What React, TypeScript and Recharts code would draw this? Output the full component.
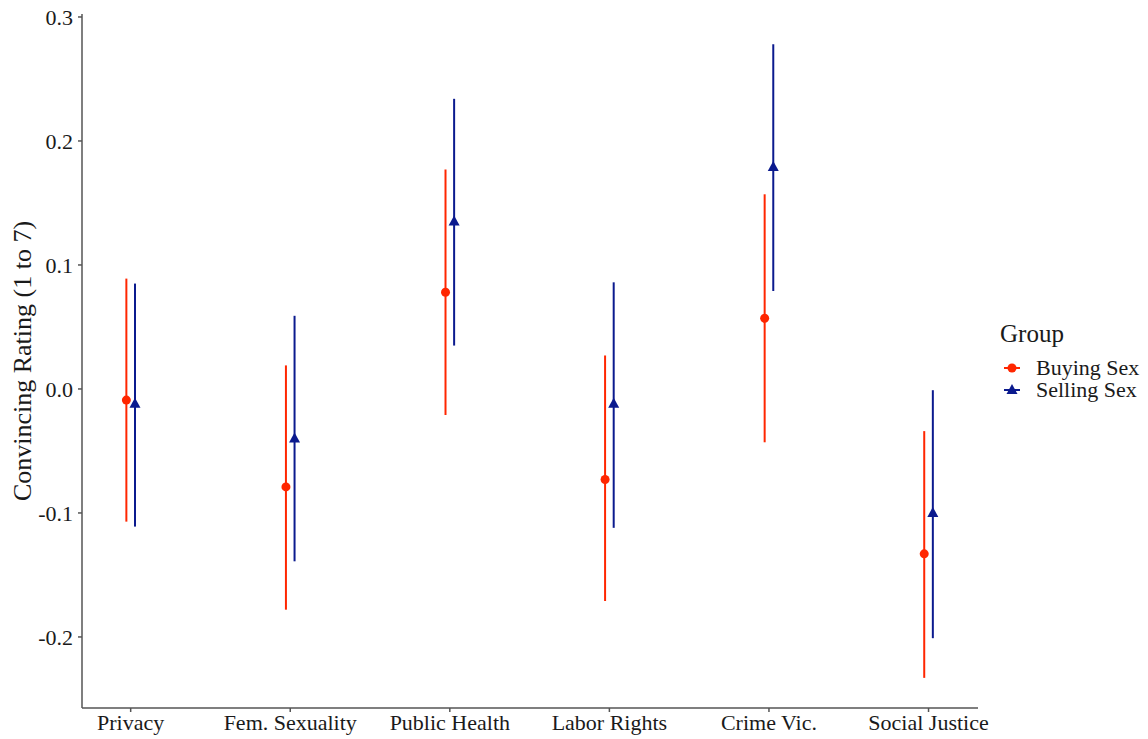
import {
  ScatterChart,
  Scatter,
  XAxis,
  YAxis,
  ErrorBar,
  Label,
} from "recharts";

const categories = [
  "Privacy",
  "Fem. Sexuality",
  "Public Health",
  "Labor Rights",
  "Crime Vic.",
  "Social Justice",
];

// Buying Sex: estimate + 95% CI
const buyingEst = [-0.009, -0.079, 0.078, -0.073, 0.057, -0.133];
const buyingLow = [-0.107, -0.178, -0.021, -0.171, -0.043, -0.233];
const buyingHigh = [0.089, 0.019, 0.177, 0.027, 0.157, -0.034];

// Selling Sex: estimate + 95% CI
const sellingEst = [-0.012, -0.040, 0.135, -0.012, 0.179, -0.100];
const sellingLow = [-0.111, -0.139, 0.035, -0.112, 0.079, -0.201];
const sellingHigh = [0.085, 0.059, 0.234, 0.086, 0.278, -0.001];

const yTicks = [-0.2, -0.1, 0.0, 0.1, 0.2, 0.3];

const RED = "#FF2600";
const BLUE = "#0B1A8E";
const FONT = "'Liberation Serif', 'Times New Roman', serif";

const dodge = 0.027;

const buyingData = categories.map((c, i) => ({
  x: i + 1 - dodge,
  y: buyingEst[i],
  err: [buyingEst[i] - buyingLow[i], buyingHigh[i] - buyingEst[i]],
}));

const sellingData = categories.map((c, i) => ({
  x: i + 1 + dodge,
  y: sellingEst[i],
  err: [sellingEst[i] - sellingLow[i], sellingHigh[i] - sellingEst[i]],
}));

const Dot = (props: any) => (
  <circle cx={props.cx} cy={props.cy} r={4.5} fill={RED} />
);

const Tri = (props: any) => {
  const { cx, cy } = props;
  return (
    <polygon
      points={`${cx},${cy - 6} ${cx - 5.5},${cy + 4} ${cx + 5.5},${cy + 4}`}
      fill={BLUE}
    />
  );
};

// legend drawn by hand, sits to the right of the plot
const LegendBox = () => (
  <svg width={160} height={92}>
    <text x={10} y={24} fontFamily={FONT} fontSize={25} fill="#1a1a1a">
      Group
    </text>
    <line x1={14} x2={30} y1={50} y2={50} stroke={RED} strokeWidth={2} />
    <circle cx={22} cy={50} r={4.5} fill={RED} />
    <text x={46} y={57} fontFamily={FONT} fontSize={22} fill="#1a1a1a">
      Buying Sex
    </text>
    <line x1={14} x2={30} y1={72} y2={72} stroke={BLUE} strokeWidth={2} />
    <polygon points="22,66 16.5,76 27.5,76" fill={BLUE} />
    <text x={46} y={79} fontFamily={FONT} fontSize={22} fill="#1a1a1a">
      Selling Sex
    </text>
  </svg>
);

export default function App() {
  return (
    <div
      style={{
        position: "absolute",
        left: 0,
        top: 0,
        width: 1148,
        height: 739,
        background: "#fff",
      }}
    >
      <ScatterChart
        width={1148}
        height={739}
        margin={{ top: 14, right: 170, bottom: 0, left: 0 }}
      >
        <XAxis
          type="number"
          dataKey="x"
          domain={[0.695, 6.31]}
          ticks={[1, 2, 3, 4, 5, 6]}
          tickFormatter={(v: number) => categories[Math.round(v) - 1]}
          allowDataOverflow
          height={31}
          tickSize={4}
          tickMargin={2}
          stroke="#555"
          strokeWidth={1.5}
          tick={{ fill: "#1a1a1a", fontSize: 22, fontFamily: FONT }}
          interval={0}
        />
        <YAxis
          type="number"
          dataKey="y"
          domain={[-0.2573, 0.3024]}
          ticks={yTicks}
          tickFormatter={(v: number) => v.toFixed(1)}
          allowDataOverflow
          width={82}
          tickSize={4}
          tickMargin={5}
          stroke="#555"
          strokeWidth={1.5}
          tick={{ fill: "#1a1a1a", fontSize: 22, fontFamily: FONT }}
        >
          <Label
            value="Convincing Rating (1 to 7)"
            angle={-90}
            position="insideLeft"
            offset={22}
            style={{
              textAnchor: "middle",
              fontSize: 26,
              fontFamily: FONT,
              fill: "#1a1a1a",
            }}
          />
        </YAxis>
        <Scatter
          name="Buying Sex"
          data={buyingData}
          shape={Dot}
          isAnimationActive={false}
        >
          <ErrorBar
            dataKey="err"
            direction="y"
            width={0}
            stroke={RED}
            strokeWidth={2}
          />
        </Scatter>
        <Scatter
          name="Selling Sex"
          data={sellingData}
          shape={Tri}
          isAnimationActive={false}
        >
          <ErrorBar
            dataKey="err"
            direction="y"
            width={0}
            stroke={BLUE}
            strokeWidth={2}
          />
        </Scatter>
      </ScatterChart>
      <div style={{ position: "absolute", left: 990, top: 318 }}>
        <LegendBox />
      </div>
    </div>
  );
}
